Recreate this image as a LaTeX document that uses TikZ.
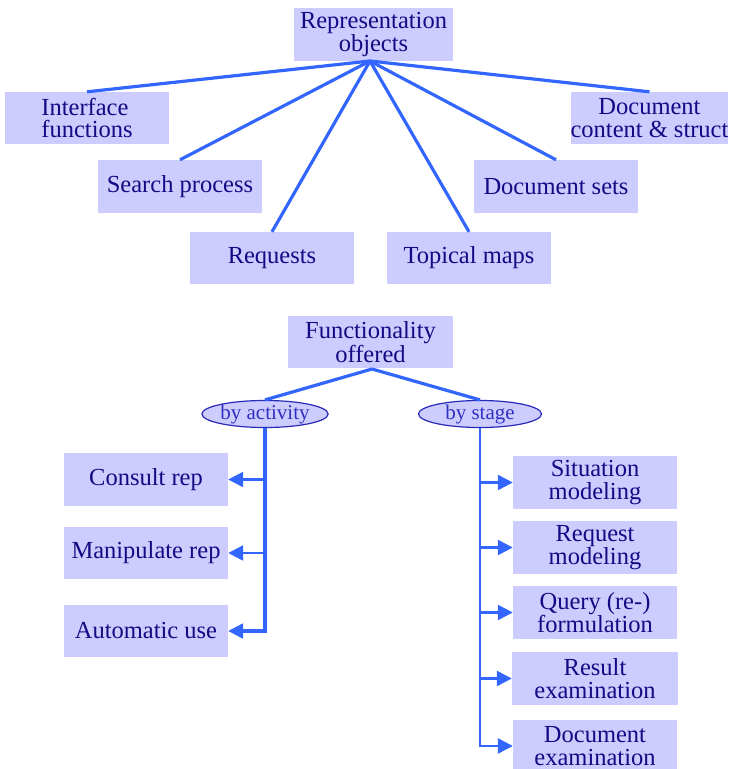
\documentclass[tikz,border=0pt]{standalone}
\usepackage{fontspec}
\setmainfont{Liberation Serif}
\usetikzlibrary{arrows.meta,shapes.geometric}
\definecolor{boxfill}{HTML}{CCCCFF}
\definecolor{boxtext}{HTML}{140A84}
\definecolor{linkblue}{HTML}{3366FF}
\definecolor{ovalline}{HTML}{2A2AB8}
\definecolor{ovaltext}{HTML}{3030C0}
\tikzset{
  box/.style={fill=boxfill, text=boxtext, inner sep=0pt, align=center,
    minimum width=164pt, minimum height=53pt,
    font=\fontsize{24.5}{22.5}\selectfont},
  oval/.style={ellipse, draw=ovalline, line width=1.2pt, fill=boxfill,
    text=ovaltext, inner sep=0pt, minimum width=122pt, minimum height=26pt,
    font=\fontsize{21}{21}\selectfont},
  link/.style={draw=linkblue, line width=3.2pt},
  branch/.style={draw=linkblue, line width=2.4pt,
    -{Triangle[length=15pt,width=15pt]}},
}
\begin{document}
\begin{tikzpicture}[x=1pt,y=-1pt]
\useasboundingbox (0,0) rectangle (730,769);

% upper tree: representation objects
\node[box, minimum width=159pt] (ro) at (373.5,34.5) {Representation\\objects};
\node[box, minimum height=52pt, align=left] (iface) at (87,118) {Interface\\functions};
\node[box] (search) at (180,186.5) {Search process};
\node[box, minimum width=157pt, minimum height=52pt] (doccs) at (649.5,118) {Document\\content \& struct};
\node[box] (dsets) at (556,186.5) {Document sets};
\node[box, minimum height=52pt] (req) at (272,258) {Requests};
\node[box, minimum height=52pt] (topo) at (469,258) {Topical maps};

\coordinate (hub) at (370,61);
\foreach \t in {iface,search,req,topo,dsets,doccs}
  \draw[link] (hub) -- (\t.north);

% lower tree: functionality offered
\node[box, minimum width=165pt, minimum height=52pt] (func) at (370.5,342) {Functionality\\offered};
\node[oval] (act) at (265,414) {by activity};
\node[oval, minimum width=123pt] (stage) at (480,414) {by stage};
\coordinate (fhub) at (372,369);
\draw[link] (fhub) -- (act.north);
\draw[link] (fhub) -- (stage.north);

% by activity
\node[box] (consult) at (146,479.5) {Consult rep};
\node[box, minimum height=52pt] (manip) at (146,553) {Manipulate rep};
\node[box, minimum height=52pt] (auto) at (146,631) {Automatic use};
\draw[link] (act.south) |- ([xshift=15pt]auto.east);
\draw[branch] (act.south |- auto.east) -- (auto.east);
\draw[branch] (act.south |- consult.east) -- (consult.east);
\draw[branch] (act.south |- manip.east) -- (manip.east);

% by stage
\node[box] (sit) at (595,482.5) {Situation\\modeling};
\node[box] (reqm) at (595,547.5) {Request\\modeling};
\node[box] (query) at (595,612.5) {Query (re-)\\formulation};
\node[box, minimum width=166pt] (result) at (595,678.5) {Result\\examination};
\node[box] (docex) at (595,746) {Document\\examination};
\draw[link, line width=2.4pt] (stage.south) |- ([xshift=-15pt]docex.west);
\foreach \t in {sit,reqm,query,result,docex}
  \draw[branch] (stage.south |- \t.west) -- (\t.west);
\end{tikzpicture}
\end{document}
